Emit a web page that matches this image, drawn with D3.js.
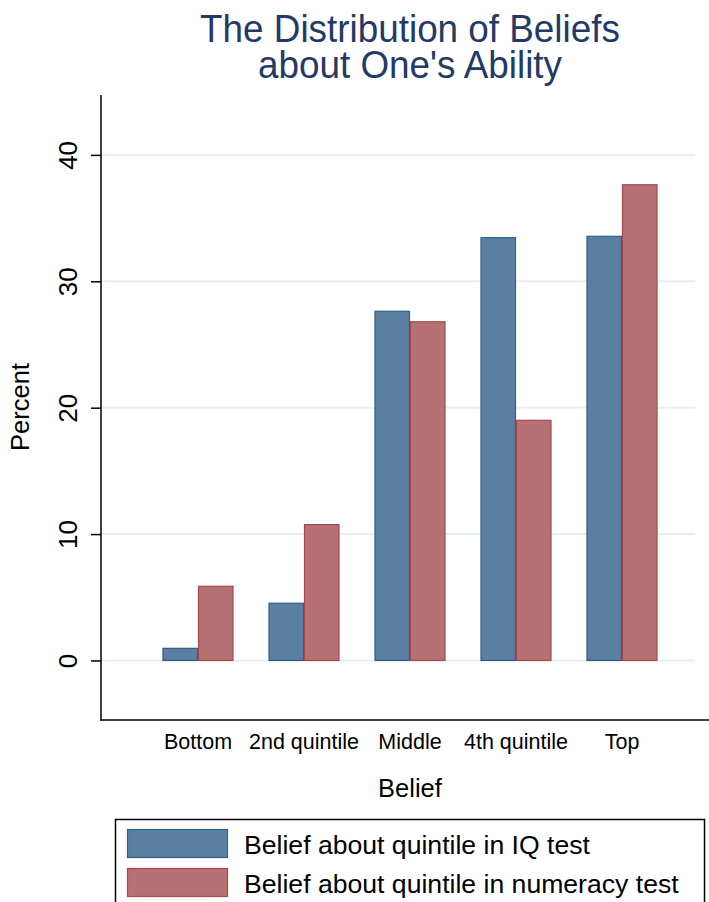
<!DOCTYPE html>
<html>
<head>
<meta charset="utf-8">
<script src="https://cdn.jsdelivr.net/npm/d3@7"></script>
<style>
  html, body { margin: 0; padding: 0; background: #fff; }
  svg { display: block; }
  text { font-family: "Liberation Sans", Arial, sans-serif; }
</style>
</head>
<body>
<svg id="chart" width="709" height="902"></svg>
<script>
const categories = ["Bottom", "2nd quintile", "Middle", "4th quintile", "Top"];
const seriesNames = ["Belief about quintile in IQ test", "Belief about quintile in numeracy test"];
const iqValues = [0.96, 4.53, 27.63, 33.45, 33.56];
const numeracyValues = [5.87, 10.75, 26.8, 19.0, 37.64];
const yTicks = [0, 10, 20, 30, 40];
const titleLines = ["The Distribution of Beliefs", "about One's Ability"];

const fills = ["#5b7fa1", "#b57173"];
const strokes = ["#2f5f8a", "#a8484d"];

const svg = d3.select("#chart");
const plot = { left: 101, right: 709, top: 95, bottom: 720 };

const y = d3.scaleLinear().domain([-4.71, 44.74]).range([plot.bottom, plot.top]);
const x = d3.scaleBand().domain(categories).range([145, 675]).paddingInner(0.33).paddingOuter(0.165);
const xs = d3.scaleBand().domain([0, 1]).range([0, x.bandwidth()]);

// title: one text element, two lines, slightly tall glyphs like the reference
const sx = 1.1, sy = 1.14;
const title = svg.append("text")
  .attr("transform", `translate(410,42) scale(${sx},${sy})`)
  .attr("text-anchor", "middle")
  .attr("font-size", 33.5)
  .attr("fill", "#243a66");
title.selectAll("tspan").data(titleLines).join("tspan")
  .attr("x", 0).attr("y", (d, i) => i * 36 / sy)
  .text(d => d);

// gridlines
svg.append("g").selectAll("line").data(yTicks).join("line")
  .attr("x1", plot.left).attr("x2", 695)
  .attr("y1", d => y(d)).attr("y2", d => y(d))
  .attr("stroke", "#e8f0f1").attr("stroke-width", 2);

// bars
const data = categories.map((c, i) => ({ cat: c, vals: [iqValues[i], numeracyValues[i]] }));
const groups = svg.append("g").selectAll("g").data(data).join("g")
  .attr("transform", d => `translate(${x(d.cat)},0)`);
groups.selectAll("rect").data(d => d.vals.map((v, k) => ({ v, k }))).join("rect")
  .attr("x", d => xs(d.k) + 0.5)
  .attr("width", xs.bandwidth() - 1)
  .attr("y", d => y(d.v))
  .attr("height", d => y(0) - y(d.v))
  .attr("fill", d => fills[d.k])
  .attr("stroke", d => strokes[d.k])
  .attr("stroke-width", 1.2);

// y axis
const yAxis = d3.axisLeft(y).tickValues(yTicks).tickSize(10).tickFormat(d3.format("d"));
const yg = svg.append("g").attr("transform", `translate(${plot.left},0)`).call(yAxis);
yg.select(".domain").remove();
yg.selectAll(".tick line").attr("stroke", "#000").attr("stroke-width", 1.5);
yg.selectAll(".tick text")
  .attr("font-size", 26).attr("fill", "#000")
  .attr("font-family", "Liberation Sans, Arial, sans-serif")
  .attr("transform", "rotate(-90)")
  .attr("x", 0).attr("y", -24).attr("dy", 0)
  .attr("text-anchor", "middle");
svg.append("line").attr("x1", plot.left).attr("x2", plot.left)
  .attr("y1", plot.top).attr("y2", plot.bottom + 0.75)
  .attr("stroke", "#000").attr("stroke-width", 1.5);

// x axis
const xAxis = d3.axisBottom(x).tickSize(0).tickPadding(0);
const xg = svg.append("g").attr("transform", `translate(0,${plot.bottom})`).call(xAxis);
xg.select(".domain").remove();
xg.selectAll(".tick text")
  .attr("font-size", 21.5).attr("fill", "#000")
  .attr("font-family", "Liberation Sans, Arial, sans-serif")
  .attr("y", 29).attr("dy", 0);
svg.append("line").attr("x1", plot.left - 0.75).attr("x2", plot.right)
  .attr("y1", plot.bottom).attr("y2", plot.bottom)
  .attr("stroke", "#000").attr("stroke-width", 1.5);

// axis titles
svg.append("text").attr("x", 410).attr("y", 797).attr("text-anchor", "middle")
  .attr("font-size", 25.5).attr("fill", "#000").text("Belief");
svg.append("text").attr("transform", "translate(29,407) rotate(-90)")
  .attr("text-anchor", "middle").attr("font-size", 25.5).attr("fill", "#000").text("Percent");

// legend
const lg = svg.append("g");
lg.append("rect").attr("x", 115.5).attr("y", 819.5).attr("width", 589).attr("height", 90)
  .attr("fill", "#fff").attr("stroke", "#000").attr("stroke-width", 1.5);
const items = lg.selectAll("g.item").data(seriesNames).join("g").attr("class", "item")
  .attr("transform", (d, i) => `translate(0,${829 + i * 39})`);
items.append("rect").attr("x", 127.5).attr("y", 0.5).attr("width", 100).attr("height", 28)
  .attr("fill", (d, i) => fills[i]).attr("stroke", (d, i) => strokes[i]).attr("stroke-width", 1.2);
items.append("text").attr("x", 244).attr("y", 24.5).attr("font-size", 26.6).attr("fill", "#000").text(d => d);
</script>
</body>
</html>
